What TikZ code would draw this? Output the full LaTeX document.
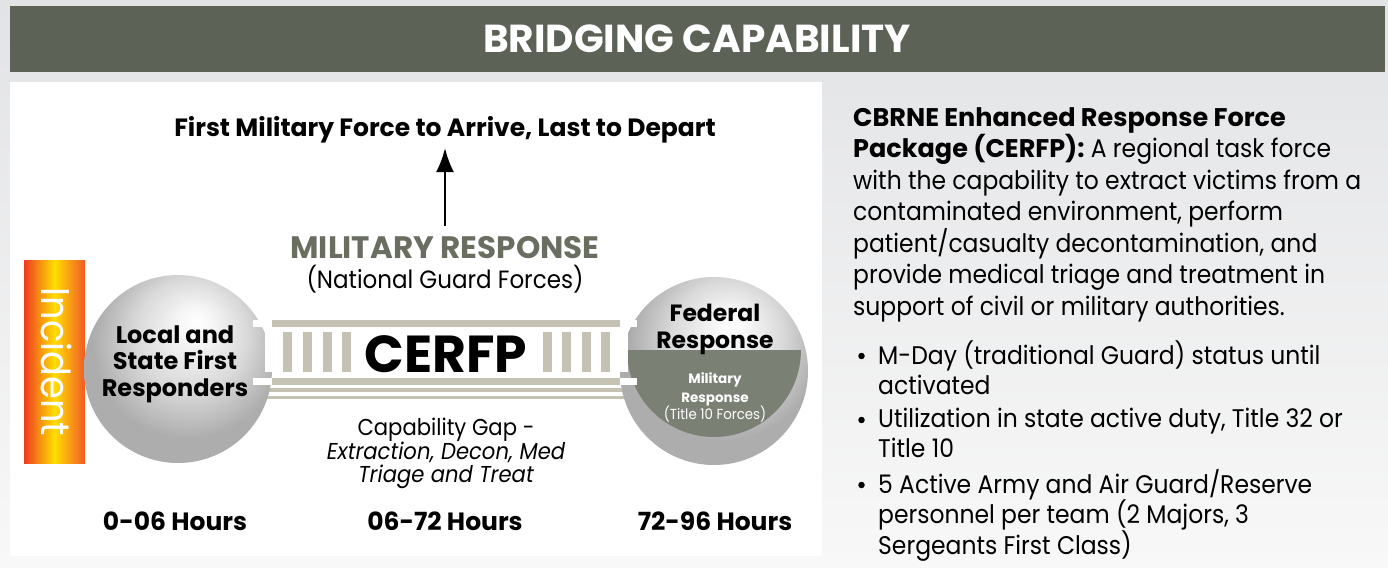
\documentclass[tikz,border=0pt]{standalone}
\usepackage{fontspec}
\setmainfont{Poppins}[FakeStretch=0.92, BoldFeatures={FakeStretch=1.0}]
\usetikzlibrary{arrows.meta}
\definecolor{bgtop}{HTML}{E2E3E5}
\definecolor{bgbot}{HTML}{F8F8F8}
\definecolor{barcol}{HTML}{5C6356}
\definecolor{milgray}{HTML}{6A6E61}
\definecolor{darkseg}{HTML}{7B8075}
\definecolor{tancol}{HTML}{C5C1B3}
\definecolor{incred}{HTML}{EE3B24}
\definecolor{incyel}{HTML}{FFDE00}
\definecolor{incor}{HTML}{F15A27}
\pgfdeclareradialshading{sphere}{\pgfpoint{5bp}{13bp}}{color(0bp)=(white); color(5bp)=(black!4); color(15bp)=(black!15); color(25bp)=(black!32); color(50bp)=(black!32)}
\begin{document}
\begin{tikzpicture}[x=1pt,y=-1pt,
  lbl/.style={inner sep=0pt, anchor=base, align=center},
  rtext/.style={inner sep=0pt, anchor=base west, align=left},
  bulletdot/.style={circle, fill=black, inner sep=0pt, minimum size=6.5pt},
  spherestyle/.style={shading=sphere},
  beamwhite/.style={fill=white},
  beamtan/.style={fill=tancol}]
\useasboundingbox (0,0) rectangle (1388,567);
% background
\shade[top color=bgtop, bottom color=bgbot] (0,0) rectangle (1388,567);
\fill[barcol] (10,6) rectangle (1385,72);
\node[lbl, text=white, font=\fontsize{39}{42}\selectfont\bfseries] (title) at (697,53) {BRIDGING CAPABILITY};
\fill[white] (10,82) rectangle (822,556);

% incident bar
\shade[left color=incred, right color=incor, middle color=incyel] (24,260) rectangle (85,463);
\node[inner sep=0pt, anchor=base, rotate=-90, text=white, font=\fontsize{40}{44}\selectfont] (incident) at (41,362) {Incident};

% thin lines under bridge
\fill[tancol] (262,388) rectangle (630,392);
\fill[tancol] (262,395.5) rectangle (630,399);

% spheres
\shade[spherestyle] (178,369) circle (94);
\shade[spherestyle] (714,371) circle (94);
\begin{scope}
  \clip (600,350) rectangle (830,480);
  \fill[darkseg] (714,350) circle (87);
\end{scope}

% bridge beams
\fill[beamwhite] (253,320) rectangle (637,327);
\fill[beamtan] (272,320) rectangle (620,327);
\fill[beamwhite] (253,378) rectangle (637,385);
\fill[beamtan] (272,378) rectangle (620,385);
\fill[beamwhite] (265,332) rectangle (273,372);
\fill[beamwhite] (620,332) rectangle (628,372);
\foreach \px in {283,303,323,342,543,562,582,601}
  \fill[beamtan] (\px,332) rectangle ++(8.5,40);

\node[lbl, font=\fontsize{52}{60}\selectfont\bfseries] (cerfp) at (446,372) {CERFP};

% sphere labels (base = last line)
\node[lbl, font=\fontsize{24}{26.5}\selectfont\bfseries] (local) at (175,396) {Local and\\State First\\Responders};
\node[lbl, font=\fontsize{23.5}{27}\selectfont\bfseries] (federal) at (715,348) {Federal\\Response};
\node[lbl, text=white, font=\fontsize{13.5}{19}\selectfont\bfseries] (milresp) at (715,402) {Military\\Response};
\node[lbl, text=white, font=\fontsize{14.5}{16}\selectfont] (title10) at (715,419) {(Title 10 Forces)};

% top labels
\node[lbl, font=\fontsize{25}{28}\selectfont\bfseries] (first) at (445,136) {First Military Force to Arrive, Last to Depart};
\node[lbl, text=milgray, font=\fontsize{31}{34}\selectfont\bfseries] (military) at (445,258) {MILITARY RESPONSE};
\node[lbl, font=\fontsize{25}{28}\selectfont] (national) at (445,288) {(National Guard Forces)};
\coordinate (arrowtail) at (445,226);
\coordinate (arrowtip) at (445,148);
\draw[line width=2.5pt, -{Latex[length=24pt,width=18pt]}] (arrowtail) -- (arrowtip);

% gap label
\node[lbl, font=\fontsize{23}{22.5}\selectfont] (gap) at (446,482) {Capability Gap -\\\itshape Extraction, Decon, Med\\\itshape Triage and Treat};

% hours
\node[lbl, font=\fontsize{25}{28}\selectfont\bfseries] (h1) at (175,530) {0-06 Hours};
\node[lbl, font=\fontsize{25}{28}\selectfont\bfseries] (h2) at (445,530) {06-72 Hours};
\node[lbl, font=\fontsize{25}{28}\selectfont\bfseries] (h3) at (715,530) {72-96 Hours};

% right text (base = last line)
\node[rtext, font=\fontsize{25.5}{31.5}\selectfont] (para) at (853,315)
 {\textbf{CBRNE Enhanced Response Force}\\
  \textbf{Package (CERFP):} A regional task force\\
  with the capability to extract victims from a\\
  contaminated environment, perform\\
  patient/casualty decontamination, and\\
  provide medical triage and treatment in\\
  support of civil or military authorities.};
\node[rtext, font=\fontsize{25.5}{30}\selectfont] (b1) at (878,394) {M-Day (traditional Guard) status until\\activated};
\node[rtext, font=\fontsize{25.5}{29.5}\selectfont] (b2) at (878,457) {Utilization in state active duty, Title 32 or\\Title 10};
\node[rtext, font=\fontsize{25.5}{30.5}\selectfont] (b3) at (878,554) {5 Active Army and Air Guard/Reserve\\personnel per team (2 Majors, 3\\Sergeants First Class)};
\node[bulletdot] (d1) at (861.5,356) {};
\node[bulletdot] (d2) at (861.5,420) {};
\node[bulletdot] (d3) at (861.5,485) {};
\end{tikzpicture}
\end{document}
